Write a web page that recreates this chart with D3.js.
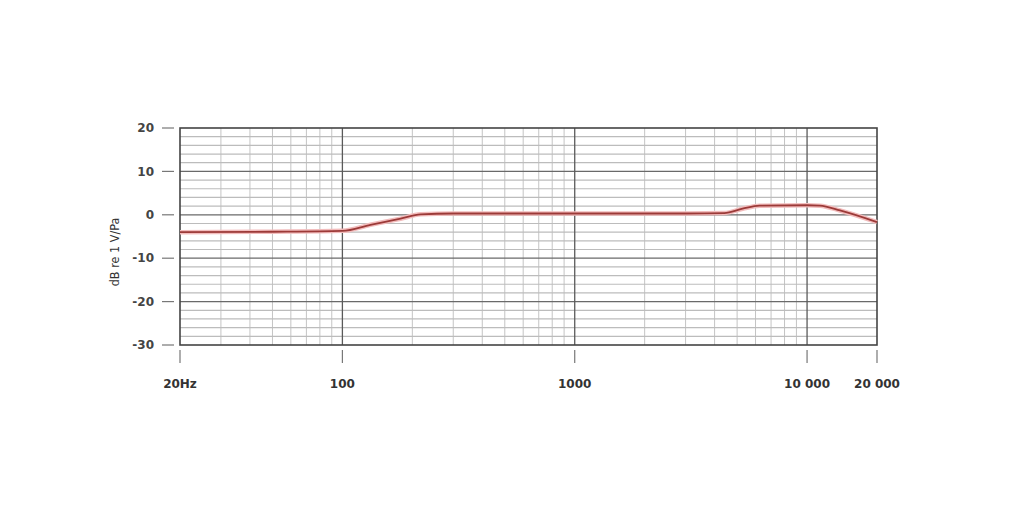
<!DOCTYPE html>
<html><head><meta charset="utf-8">
<script src="https://cdn.jsdelivr.net/npm/d3@7"></script>
<style>html,body{margin:0;padding:0;background:#fff;}svg{display:block;}</style>
</head><body>
<svg id="c" width="1024" height="512"></svg>
<script>
const freqs = [20, 50, 100, 132, 178, 217, 300, 1000, 3000, 4400, 5280, 6240, 10000, 11350, 13860, 20000];
const levels = [-4.0, -3.9, -3.7, -2.3, -0.9, 0.1, 0.3, 0.3, 0.3, 0.4, 1.4, 2.1, 2.2, 2.1, 1.0, -1.7];
const xTickValues = [20, 100, 1000, 10000, 20000];
const xTickLabels = ["20Hz", "100", "1000", "10 000", "20 000"];
const yTickValues = [20, 10, 0, -10, -20, -30];
const yLabel = "dB re 1 V/Pa";

const svg = d3.select("#c");
const L = 180, R = 877, T = 128, B = 345;
const x = d3.scaleLog().domain([20, 20000]).range([L, R]);
const y = d3.scaleLinear().domain([-30, 20]).range([B, T]);

// minor vertical grid
const minorX = [];
[10, 100, 1000, 10000].forEach(d => { for (let k = 2; k <= 9; k++) { const f = d * k; if (f > 20 && f < 20000 && ![100,1000,10000].includes(f)) minorX.push(f); } });
const g = svg.append("g");
g.selectAll(".mx").data(minorX).join("line")
  .attr("x1", d => x(d)).attr("x2", d => x(d)).attr("y1", T).attr("y2", B)
  .attr("stroke", "#c4c4c4").attr("stroke-width", 1);
// minor horizontal
const minorY = d3.range(-30, 21, 2).filter(v => v % 10 !== 0);
g.selectAll(".my").data(minorY).join("line")
  .attr("x1", L).attr("x2", R).attr("y1", d => y(d)).attr("y2", d => y(d))
  .attr("stroke", "#bcbcbc").attr("stroke-width", 1.2);
// major
g.selectAll(".MY").data([10, 0, -10, -20]).join("line")
  .attr("x1", L).attr("x2", R).attr("y1", d => y(d)).attr("y2", d => y(d))
  .attr("stroke", "#6a6a6a").attr("stroke-width", 1.3);
g.selectAll(".MX").data([100, 1000, 10000]).join("line")
  .attr("x1", d => x(d)).attr("x2", d => x(d)).attr("y1", T).attr("y2", B)
  .attr("stroke", "#5a5a5a").attr("stroke-width", 1.3);
g.append("rect").attr("x", L).attr("y", T).attr("width", R - L).attr("height", B - T)
  .attr("fill", "none").attr("stroke", "#444").attr("stroke-width", 1.6);

// curve
const line = d3.line().x((d, i) => x(freqs[i])).y(d => y(d)).curve(d3.curveMonotoneX);
svg.append("path").datum(levels).attr("d", line).attr("fill", "none")
  .attr("stroke", "#f2bcbc").attr("stroke-width", 4.5).attr("stroke-linejoin", "round");
svg.append("path").datum(levels).attr("d", line).attr("fill", "none")
  .attr("stroke", "#9c3a38").attr("stroke-width", 1.8).attr("stroke-linejoin", "round");

// y axis ticks
const yt = svg.append("g");
yt.selectAll("line").data(yTickValues).join("line")
  .attr("x1", 162).attr("x2", 174).attr("y1", d => y(d)).attr("y2", d => y(d))
  .attr("stroke", "#777").attr("stroke-width", 1.2);
yt.selectAll("text").data(yTickValues).join("text")
  .attr("x", 154).attr("y", d => y(d)).attr("dy", "0.35em").attr("text-anchor", "end")
  .attr("font-family", "DejaVu Sans, sans-serif").attr("font-size", 12).attr("font-weight", "bold")
  .attr("fill", "#444").text(d => d);
// x ticks
const xt = svg.append("g");
xt.selectAll("line").data(xTickValues).join("line")
  .attr("x1", d => x(d)).attr("x2", d => x(d)).attr("y1", 350).attr("y2", 363)
  .attr("stroke", "#777").attr("stroke-width", 1.2);
xt.selectAll("text").data(xTickValues).join("text")
  .attr("x", d => x(d)).attr("y", 388).attr("text-anchor", "middle")
  .attr("font-family", "DejaVu Sans, sans-serif").attr("font-size", 12).attr("font-weight", "bold")
  .attr("fill", "#333").text((d, i) => xTickLabels[i]);
// y label
svg.append("text").attr("transform", "translate(119,252) rotate(-90)").attr("text-anchor", "middle")
  .attr("font-family", "DejaVu Sans Condensed, sans-serif").attr("font-size", 12.5)
  .attr("fill", "#333").text(yLabel);
</script>
</body></html>
